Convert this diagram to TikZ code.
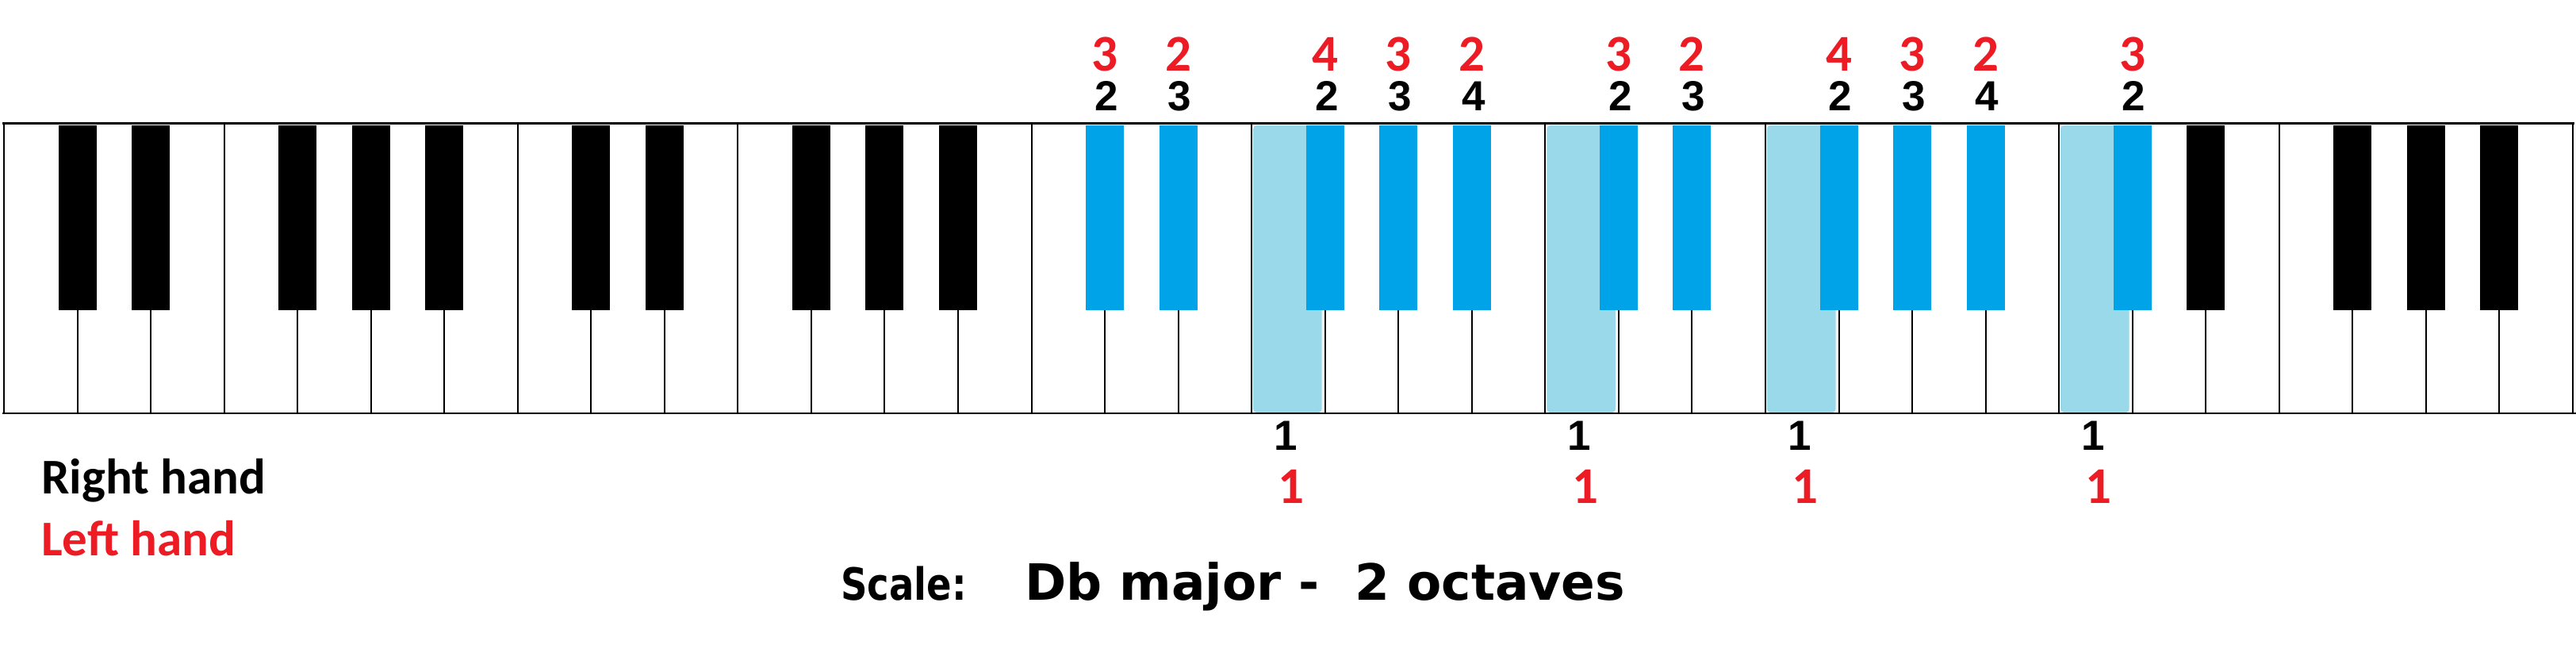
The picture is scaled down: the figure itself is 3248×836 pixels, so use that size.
\documentclass[tikz,border=0pt]{standalone}
\usepackage{graphicx}
\usepackage{fontspec}
\setmainfont{Liberation Sans}
\newfontfamily\arialf{Liberation Sans}
\newfontfamily\calib{Carlito}
\newfontfamily\dejavu{DejaVu Sans}
\definecolor{keyblue}{HTML}{00A2E8}
\definecolor{lightkeyc}{HTML}{99D9EA}
\definecolor{fingred}{HTML}{ED1C24}
\begin{document}
\begin{tikzpicture}[x=1pt,y=-1pt,
  sepline/.style={line width=2pt},
  blackkey/.style={fill=black},
  bluekey/.style={fill=keyblue},
  lightfill/.style={fill=lightkeyc, rounded corners=4pt},
  rh/.style={font=\arialf\bfseries\fontsize{53}{53}\selectfont, text=black, inner sep=0pt},
  lh/.style={font=\calib\bfseries\fontsize{65}{65}\selectfont, text=fingred, inner sep=0pt},
  legend/.style={font=\calib\bfseries\fontsize{63}{63}\selectfont, anchor=base west, inner sep=0pt},
  titletext/.style={font=\dejavu\bfseries\fontsize{63}{63}\selectfont, anchor=base west, inner sep=0pt}]
\useasboundingbox (0,0) rectangle (3248,836);
\fill[white] (0,0) rectangle (3248,836);
\def\wk{92.54}
\def\xo{5}
% highlighted white keys
\foreach \i in {17,21,24,28} {
  \fill[lightfill] ({\xo+\i*\wk+2},158) rectangle ({\xo+(\i+1)*\wk-4},520);
}
% separators
\foreach \k in {0,...,35} {
  \pgfmathtruncatemacro\m{mod(\k,7)}
  \ifnum\m=0
    \draw[sepline] ({\xo+\k*\wk},157) -- ({\xo+\k*\wk},521);
  \else\ifnum\m=3
    \draw[sepline] ({\xo+\k*\wk},157) -- ({\xo+\k*\wk},521);
  \else
    \draw[sepline] ({\xo+\k*\wk},391) -- ({\xo+\k*\wk},521);
  \fi\fi
}
% black keys
\foreach \o in {0,...,4} {
  \foreach \b in {1,2,4,5,6} {
    \pgfmathtruncatemacro\k{7*\o+\b}
    \fill[blackkey] ({\xo+\k*\wk-24},158) rectangle ({\xo+\k*\wk+24},391);
  }
}
% blue keys
\foreach \k in {15,16,18,19,20,22,23,25,26,27,29} {
  \fill[bluekey] ({\xo+\k*\wk-24},158) rectangle ({\xo+\k*\wk+24},391);
}
% top and bottom lines
\draw[line width=3.5pt] (3,155.5) -- (3246,155.5);
\draw[sepline] (3,521) -- (3248,521);
% fingering above
\foreach \b/\r/\l [count=\n] in {15/2/3,16/3/2,18/2/4,19/3/3,20/4/2,22/2/3,23/3/2,25/2/4,26/3/3,27/4/2,29/2/3} {
  \node[rh] (rt\n) at ({\xo+\b*\wk+2},121) {\r};
  \node[lh] (lt\n) at ({\xo+\b*\wk},68) {\l};
}
% fingering below
\foreach \i [count=\n] in {17,21,24,28} {
  \node[rh] (rb\n) at ({\xo+(\i+0.5)*\wk-3},549) {1};
  \node[lh] (lb\n) at ({\xo+(\i+0.5)*\wk+4},613) {1};
}
% legend
\node[legend] (right) at (52,622) {Right hand};
\node[legend, text=fingred] (left) at (52,700) {Left hand};
% title
\node[titletext, font=\dejavu\bfseries\fontsize{56}{56}\selectfont] (scale) at (1060,756) {\scalebox{0.83}[1]{Scale:}};
\node[titletext] (title) at (1292,756) {Db major -\hspace{45pt}2 octaves};
\end{tikzpicture}
\end{document}
